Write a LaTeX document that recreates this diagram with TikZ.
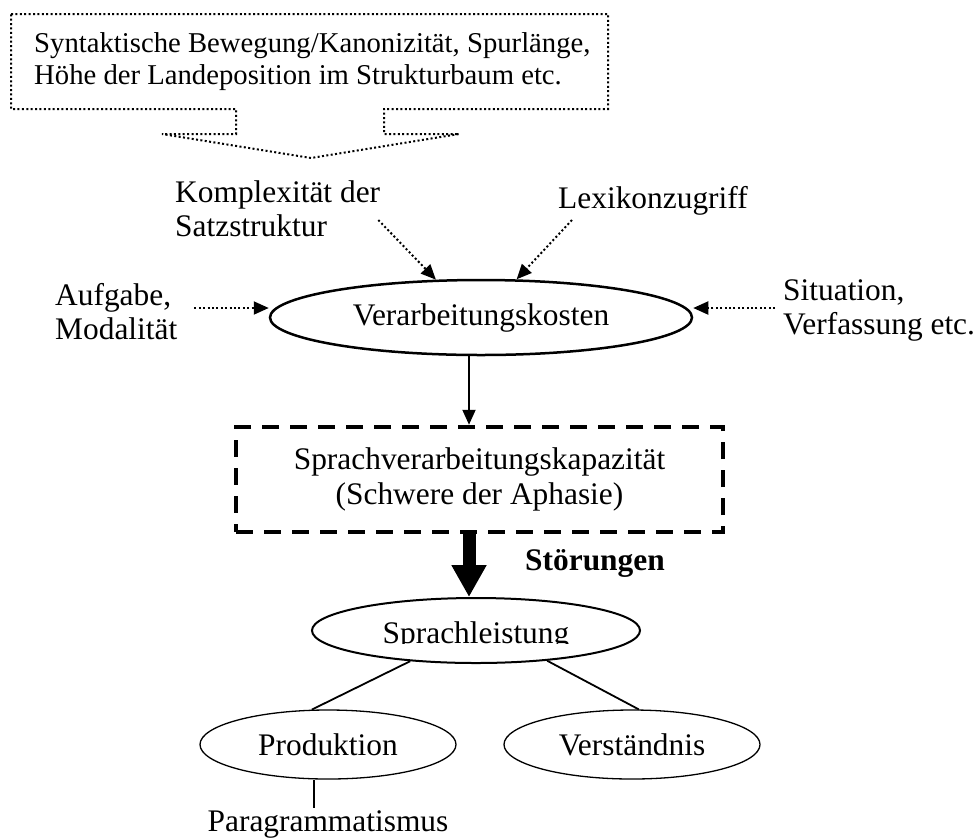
\documentclass[tikz,border=0pt]{standalone}
\usepackage{fontspec}
\setmainfont{Liberation Serif}
\usetikzlibrary{arrows.meta,shapes.geometric,calc}
\begin{document}
\begin{tikzpicture}[x=1pt,y=-1pt,
  txt/.style={inner sep=0pt, font=\fontsize{31.4}{34}\selectfont, align=left},
  smalltxt/.style={inner sep=0pt, font=\fontsize{28.7}{32}\selectfont, align=left},
  ell/.style={ellipse, draw, inner sep=0pt, font=\fontsize{31.4}{34}\selectfont},
  dots/.style={line width=2pt, dash pattern=on 2pt off 2.4pt},
  dotarrow/.style={dots, -{Triangle[length=15pt,width=13pt]}},
  solidarrow/.style={line width=2pt, -{Triangle[length=15pt,width=13pt]}},
  thinline/.style={line width=1.8pt},
  dashbox/.style={draw, line width=4.5pt, dash pattern=on 17pt off 11pt, inner sep=0pt,
     minimum width=487pt, minimum height=105pt, align=center,
     font=\fontsize{31.4}{35}\selectfont}]
\useasboundingbox (0,0) rectangle (979,839);

% callout box at top
\draw[dots] (11,14) -- (608,14) -- (608,109) -- (384,109) -- (384,134) -- (459,134)
  -- (311,158) -- (162,134) -- (236,134) -- (236,109) -- (11,109) -- cycle;
\node[smalltxt, anchor=west] (tb) at (34,62) {Syntaktische Bewegung/Kanonizität, Spurlänge,\\Höhe der Landeposition im Strukturbaum etc.};

% labels
\node[txt, anchor=west] (kom) at (175,208.5) {Komplexität der\\Satzstruktur};
\node[txt, anchor=west] (lex) at (558,201) {Lexikonzugriff};
\node[txt, anchor=west] (aufg) at (55,312) {Aufgabe,\\Modalität};
\node[txt, anchor=west] (sit) at (783,310) {Situation,\\Verfassung etc.};

% main nodes
\node[ell, line width=2.5pt, minimum width=422pt, minimum height=75pt] (vk) at (481,317.5) {Verarbeitungskosten};
\node[dashbox] (kap) at (479.5,479.5) {Sprachverarbeitungskapazität\\(Schwere der Aphasie)};
\node[inner sep=0pt, anchor=west, font=\fontsize{31.4}{34}\selectfont\bfseries] (stor) at (525,563) {Störungen};
\node[ell, line width=2pt, minimum width=328pt, minimum height=65pt] (sl) at (476,630.5) {};
\coordinate (cy) at (0,643);
\begin{scope}
  \clip (sl.west |- sl.north) rectangle (sl.east |- cy);
  \node[txt, anchor=base] (slt) at (476,643) {Sprachleistung};
\end{scope}
\node[ell, line width=1.3pt, minimum width=256pt, minimum height=69pt] (prod) at (328,744.5) {Produktion};
\node[ell, line width=1.3pt, minimum width=256pt, minimum height=69pt] (ver) at (632,744.5) {Verständnis};
\node[txt, anchor=base] (pg) at (328,831) {Paragrammatismus};

% connectors
\coordinate (ax) at (469,0);
\coordinate (lx) at (314,0);
\draw[dotarrow] ($(kom.east)+(-2,11.5)$) -- (vk.140);
\draw[dotarrow] ($(lex.west)+(14,19)$) -- (vk.47);
\draw[dotarrow] ($(aufg.east)+(17,-4)$) -- ($(vk.west)+(0,-9.5)$);
\draw[dotarrow] ($(sit.west)+(-8,-2)$) -- ($(vk.east)+(0,-9.5)$);
\draw[solidarrow] (vk.south -| ax) -- (kap.north -| ax);
\draw[line width=13pt, -{Triangle[length=32pt,width=33pt]}] (kap.south -| ax) -- (sl.north -| ax);
\draw[thinline] (sl.205) -- (prod.115);
\draw[thinline] (sl.337) -- (ver.79);
\draw[thinline] (prod.south -| lx) -- ($(pg.north -| lx)+(0,-2)$);
\end{tikzpicture}
\end{document}
